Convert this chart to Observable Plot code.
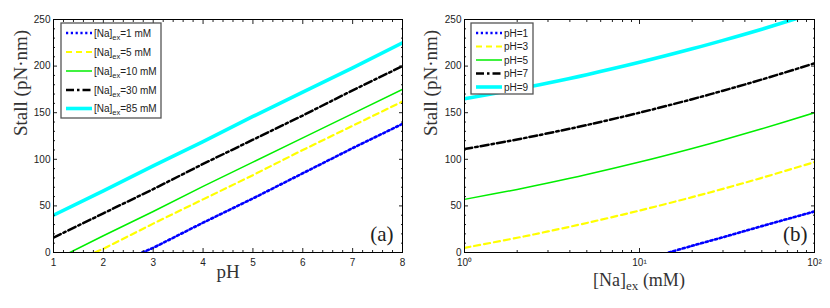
<!DOCTYPE html>
<html><head><meta charset="utf-8">
<script src="https://cdn.jsdelivr.net/npm/d3@7"></script>
<script src="https://cdn.jsdelivr.net/npm/@observablehq/plot@0.6"></script>
<style>
body{margin:0;background:#fff}
#wrap{display:flex;width:830px;height:308px;overflow:hidden}
svg{display:block}
</style>
</head><body><div id="wrap"></div>
<script>
// ---------- Panel (a): Stall vs pH, one line per [Na]ex ----------
const phTicks = [1, 2, 3, 4, 5, 6, 7, 8];
const stallTicks = [0, 50, 100, 150, 200, 250];
const na1  = [[2.78,0],[3,5],[4,32],[5,58],[6,85],[7,112],[8,138]];
const na5  = [[1.83,0],[2,4],[3,31],[4,57],[5,83],[6,110],[7,136],[8,162]];
const na10 = [[1.33,0],[2,18],[3,44],[4,71],[5,97],[6,123],[7,149],[8,175]];
const na30 = [[1,16],[2,42],[3,68],[4,95],[5,121],[6,147],[7,174],[8,200]];
const na85 = [[1,40],[2,66],[3,93],[4,119],[5,146],[6,172],[7,198],[8,225]];
const naNames = ["1", "5", "10", "30", "85"];

// ---------- Panel (b): Stall vs [Na]ex, one line per pH ----------
const naTicks = [1, 10, 100];
const naTickLabels = ["10\u2070", "10\u00b9", "10\u00b2"];
const naX = [1, 2, 3, 5, 10, 20, 30, 50, 100];
const ph1 = [[14.7,0],[20,7.2],[30,16.4],[50,28.3],[100,44]];
const ph3 = [5, 15.8, 22.6, 31.7, 45, 59.4, 68.3, 80.1, 97];
const ph5 = [57, 67.7, 74.5, 83.6, 97, 111.6, 120.7, 132.7, 150];
const ph7 = [111, 121.3, 127.9, 136.8, 150, 164.5, 173.6, 185.6, 203];
const ph9 = [165, 175.3, 181.9, 190.8, 204, 218.5, 227.6, 239.6, 257];
const phNames = ["1", "3", "5", "7", "9"];

// ---------- styles ----------
const lineStyles = [
  {stroke: "#0000ff", strokeWidth: 2.6, strokeDasharray: "2.2,2.6"},
  {stroke: "#ffff00", strokeWidth: 2.2, strokeDasharray: "6,4"},
  {stroke: "#00ee00", strokeWidth: 1.5, strokeDasharray: null},
  {stroke: "#000000", strokeWidth: 2.5, strokeDasharray: "8,3,2.5,3"},
  {stroke: "#00ffff", strokeWidth: 3.6, strokeDasharray: null}
];
const SANS = "Liberation Sans, Arial, sans-serif";
const SERIF = "Liberation Serif, Times New Roman, serif";

function tickAxes(xMajor, xMinor, yMajor, yMinor, xFormat) {
  const blank = () => "";
  return [
    // inward ticks on all four sides
    Plot.axisX(xMajor, {anchor: "bottom", tickSize: 4, dy: -4, tickFormat: blank, label: null}),
    Plot.axisX(xMinor, {anchor: "bottom", tickSize: 2, dy: -2, tickFormat: blank, label: null}),
    Plot.axisX(xMajor, {anchor: "top", tickSize: 4, dy: 4, tickFormat: blank, label: null}),
    Plot.axisX(xMinor, {anchor: "top", tickSize: 2, dy: 2, tickFormat: blank, label: null}),
    Plot.axisY(yMajor, {anchor: "left", tickSize: 4, dx: 4, tickFormat: blank, label: null}),
    Plot.axisY(yMinor, {anchor: "left", tickSize: 2, dx: 2, tickFormat: blank, label: null}),
    Plot.axisY(yMajor, {anchor: "right", tickSize: 4, dx: -4, tickFormat: blank, label: null}),
    Plot.axisY(yMinor, {anchor: "right", tickSize: 2, dx: -2, tickFormat: blank, label: null}),
    // tick labels
    Plot.axisX(xMajor, {anchor: "bottom", tickSize: 0, tickPadding: 6, tickFormat: xFormat, label: null}),
    Plot.axisY(yMajor, {anchor: "left", tickSize: 0, tickPadding: 3, label: null}),
    Plot.frame({stroke: "#000", strokeWidth: 1})
  ];
}

function drawLegend(svg, x0, y0, w, h, rowY, names, labelFn) {
  const g = d3.select(svg).append("g").attr("text-anchor", "start");
  g.append("rect").attr("x", x0).attr("y", y0).attr("width", w).attr("height", h)
    .attr("fill", "#fff").attr("stroke", "#555").attr("stroke-width", 1.3);
  names.forEach((n, i) => {
    const st = lineStyles[i];
    const y = rowY[i];
    g.append("line").attr("x1", x0 + 5).attr("x2", x0 + 31).attr("y1", y).attr("y2", y)
      .attr("stroke", st.stroke).attr("stroke-width", st.strokeWidth)
      .attr("stroke-dasharray", st.strokeDasharray);
    const t = g.append("text").attr("x", x0 + 33).attr("y", y + 3.5).attr("text-anchor", "start")
      .attr("font-family", SANS).attr("font-size", 10).attr("fill", "#222");
    labelFn(t, n);
  });
}

// ---------- build panel (a) ----------
const seriesA = [na1, na5, na10, na30, na85];
const minorA = d3.range(1, 8.0001, 0.2).filter(v => Math.abs(v - Math.round(v)) > 1e-6);
const minorY = d3.range(0, 250.001, 10).filter(v => v % 50 !== 0);

const plotA = Plot.plot({
  width: 410, height: 308,
  marginLeft: 53, marginRight: 8, marginTop: 19, marginBottom: 56,
  style: {fontFamily: SANS, fontSize: "10px", color: "#222", background: "#fff"},
  x: {domain: [1, 8]},
  y: {domain: [0, 250]},
  marks: [
    ...seriesA.map((s, i) => Plot.line(s, {x: d => d[0], y: d => d[1], clip: true, ...lineStyles[i]})),
    ...tickAxes(phTicks, minorA, stallTicks, minorY, d => String(d)),
    Plot.text(["Stall (pN\u00b7nm)"], {text: d => d, frameAnchor: "left", dx: -33, rotate: -90,
      fontFamily: SERIF, fontSize: 19, fill: "#333"}),
    Plot.text(["pH"], {text: d => d, frameAnchor: "bottom", dy: 25,
      fontFamily: SERIF, fontSize: 19, fill: "#333"}),
    Plot.text(["(a)"], {text: d => d, frameAnchor: "bottom-right", dx: -9, dy: -12, textAnchor: "end",
      fontFamily: SERIF, fontSize: 21, fill: "#222"})
  ]
});

// ---------- build panel (b) ----------
const seriesB = [ph1, ...[ph3, ph5, ph7, ph9].map(ys => naX.map((x, j) => [x, ys[j]]))];
const minorB = [2,3,4,5,6,7,8,9,20,30,40,50,60,70,80,90];

const plotB = Plot.plot({
  width: 420, height: 308,
  marginLeft: 54, marginRight: 16, marginTop: 19, marginBottom: 56,
  style: {fontFamily: SANS, fontSize: "10px", color: "#222", background: "#fff"},
  x: {type: "log", domain: [1, 100]},
  y: {domain: [0, 250]},
  marks: [
    ...seriesB.map((s, i) => Plot.line(s, {x: d => d[0], y: d => d[1], clip: true, curve: "catmull-rom", ...lineStyles[i]})),
    ...tickAxes(naTicks, minorB, stallTicks, minorY, d => naTickLabels[naTicks.indexOf(d)]),
    Plot.text(["Stall (pN\u00b7nm)"], {text: d => d, frameAnchor: "left", dx: -34, rotate: -90,
      fontFamily: SERIF, fontSize: 19, fill: "#333"}),
    Plot.text(["(b)"], {text: d => d, frameAnchor: "bottom-right", dx: -7, dy: -12, textAnchor: "end",
      fontFamily: SERIF, fontSize: 21, fill: "#222"})
  ]
});

// x label with subscript for panel (b)
{
  const t = d3.select(plotB).append("text")
    .attr("x", 54 + (420 - 54 - 16) / 2).attr("y", 286).attr("text-anchor", "middle")
    .attr("font-family", SERIF).attr("font-size", 18).attr("fill", "#333");
  t.append("tspan").text("[Na]");
  t.append("tspan").attr("dy", 4).attr("font-size", 13).text("ex");
  t.append("tspan").attr("dy", -4).text(" (mM)");
}

drawLegend(plotA, 61, 23, 100, 95, [33, 52, 71, 90, 108.5], naNames, (t, n) => {
  t.append("tspan").text("[Na]");
  t.append("tspan").attr("dy", 3).attr("font-size", 7.5).text("ex");
  t.append("tspan").attr("dy", -3).text("=" + n + " mM");
});
drawLegend(plotB, 61, 23, 62, 71, [33, 46.5, 60, 73.5, 87], phNames, (t, n) => {
  t.text("pH=" + n);
});

document.getElementById("wrap").append(plotA, plotB);
</script>
</body></html>
